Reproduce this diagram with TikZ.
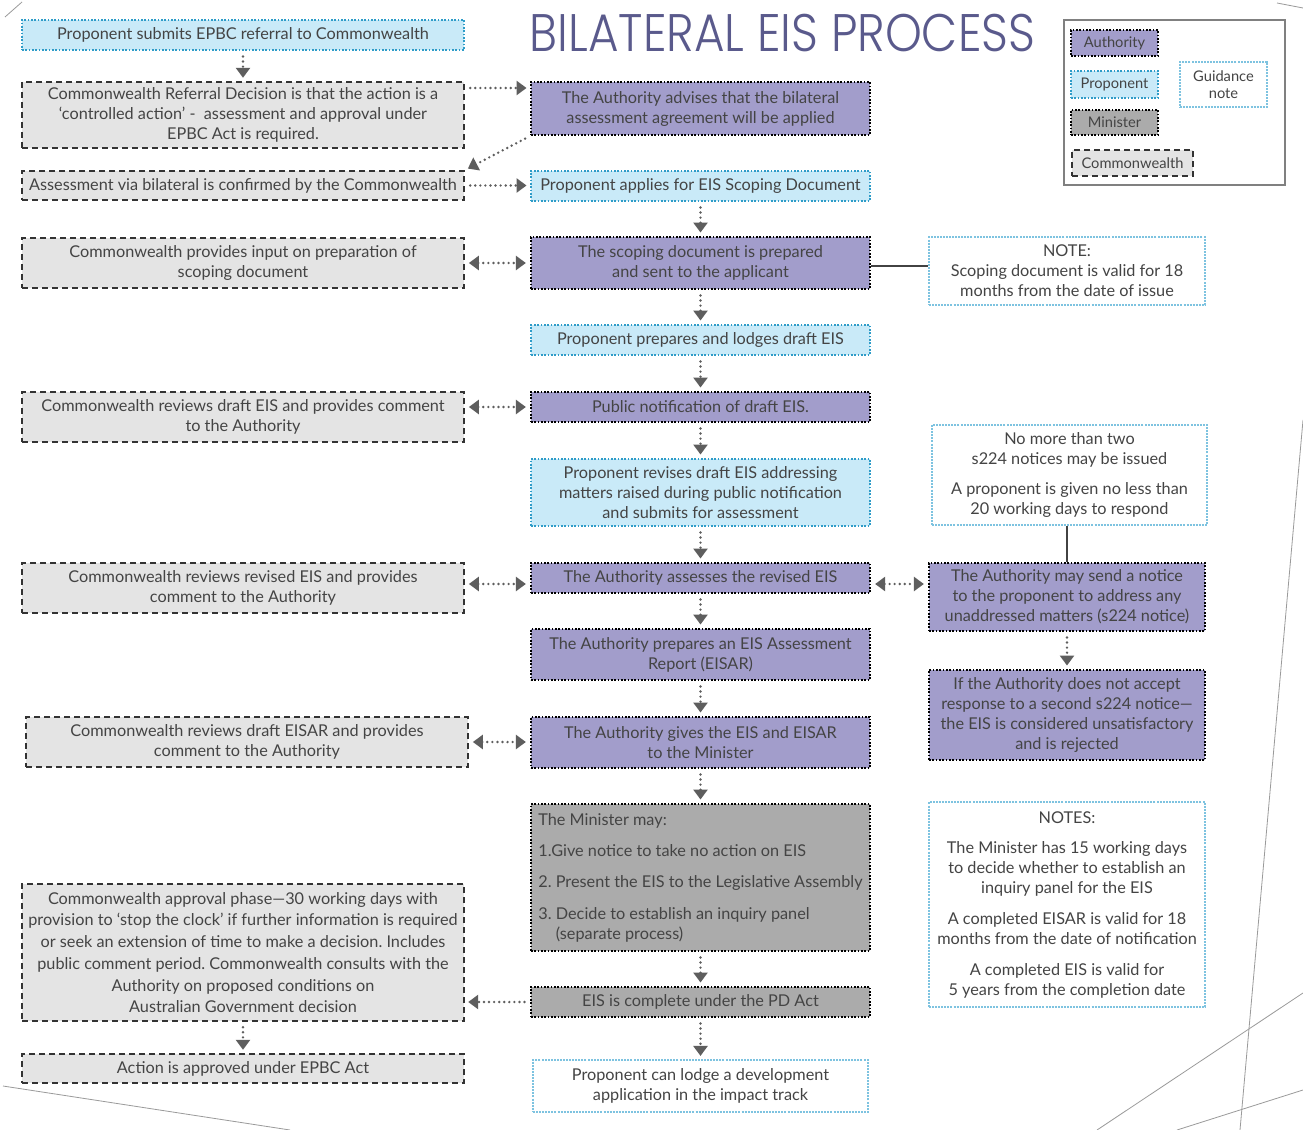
\documentclass[tikz,border=0pt]{standalone}
\usepackage{fontspec}
\setmainfont{Lato}
\newfontfamily\titlefont{Poppins}[UprightFont=* Light]
\usetikzlibrary{arrows.meta,calc}
\definecolor{txt}{HTML}{444444}
\definecolor{authfill}{HTML}{A29DCB}
\definecolor{propfill}{HTML}{C9EAF8}
\definecolor{propline}{HTML}{2E9CC8}
\definecolor{minfill}{HTML}{ABABAB}
\definecolor{comfill}{HTML}{E4E4E4}
\definecolor{comline}{HTML}{333333}
\definecolor{noteline}{HTML}{7EC3E0}
\definecolor{arrowc}{HTML}{5E5E5E}
\definecolor{titlec}{HTML}{5A5A8C}
\definecolor{deco}{HTML}{9A9A9A}
\tikzset{
  wh/.style 2 args={minimum width=#1*0.75pt, minimum height=#2*0.75pt},
  base/.style={rectangle, inner sep=0pt, align=center, text=txt, font=\fontsize{12.2}{15}\selectfont},
  auth/.style={base, fill=authfill, draw=black, line width=1.7pt, dash pattern=on 1.2pt off 1.3pt},
  prop/.style={base, fill=propfill, draw=propline, line width=1.7pt, dash pattern=on 1.2pt off 1.3pt},
  mini/.style={base, fill=minfill, draw=black, line width=1.7pt, dash pattern=on 1.2pt off 1.3pt},
  comm/.style={base, fill=comfill, draw=comline, line width=1.3pt, dash pattern=on 4.5pt off 3pt},
  guide/.style={base, fill=white, draw=noteline, line width=1.1pt, dash pattern=on 1.5pt off 0.8pt},
  legbox/.style={font=\fontsize{11}{13}\selectfont},
  flow/.style={draw=arrowc, line width=2pt, dash pattern=on 0pt off 3.8pt, line cap=round,
    -{Triangle[width=10.5pt,length=7.5pt]}, shorten <=4pt, shorten >=2.5pt},
  biflow/.style={flow, {Triangle[width=10.5pt,length=7.5pt]}-{Triangle[width=10.5pt,length=7.5pt]}, shorten <=3pt, shorten >=3pt},
  tie/.style={draw=arrowc!70!black, line width=1.5pt},
}
\begin{document}
\frenchspacing
\begin{tikzpicture}[x=0.75pt,y=-0.75pt]
\useasboundingbox (0,0) rectangle (1303,1130);
\fill[white] (0,0) rectangle (1303,1130);
% decorative lines
\draw[deco, line width=0.6pt] (5,17) -- (22,2);
\draw[deco, line width=0.6pt] (1277,3) -- (1303,8);
\draw[deco, line width=0.6pt] (1303,420) -- (1240,1130);
\draw[deco, line width=0.6pt] (1303,993) -- (1097,1130);
\draw[deco, line width=0.6pt] (1303,1090) -- (1177,1130);
\draw[deco, line width=0.6pt] (3,1086) -- (290,1130);

% title
\node[text=titlec, inner sep=0pt] (title) at (782.5,33.5) {\resizebox{379pt}{28pt}{\titlefont BILATERAL EIS PROCESS}};

% legend
\node[draw=gray, line width=0.8pt, wh={221}{165}] (legend) at (1174.5,102.5) {};
\node[auth, legbox, wh={87}{26}] (lgA) at (1114.5,43) {Authority};
\node[prop, legbox, wh={87}{27}] (lgP) at (1114.5,84.5) {Proponent};
\node[mini, legbox, wh={87}{25}] (lgM) at (1114.5,122.5) {Minister};
\node[comm, legbox, wh={121}{26}] (lgC) at (1132.5,163) {Commonwealth};
\node[guide, legbox, wh={87}{45}] (lgG) at (1223.5,84.5) {Guidance\\note};

% left column
\node[prop, wh={442}{30}] (L0) at (243,35) {Proponent submits EPBC referral to Commonwealth};
\node[comm, wh={442}{66}] (L1) at (243,115) {Commonwealth Referral Decision is that the action is a\\‘controlled action’ -\ \ assessment and approval under\\EPBC Act is required.};
\node[comm, wh={442}{29}] (L2) at (243,185.5) {Assessment via bilateral is confirmed by the Commonwealth};
\node[comm, wh={442}{50}] (L3) at (243,263) {Commonwealth provides input on preparation of\\scoping document};
\node[comm, wh={442}{50}] (L4) at (243,417) {Commonwealth reviews draft EIS and provides comment\\to the Authority};
\node[comm, wh={442}{50}] (L5) at (243,588) {Commonwealth reviews revised EIS and provides\\comment to the Authority};
\node[comm, wh={442}{50}] (L6) at (247,742) {Commonwealth reviews draft EISAR and provides\\comment to the Authority};
\node[comm, wh={442}{137}, font=\fontsize{12.2}{16.3}\selectfont] (L7) at (243,952.5) {Commonwealth approval phase—30 working days with\\provision to ‘stop the clock’ if further information is required\\or seek an extension of time to make a decision. Includes\\public comment period. Commonwealth consults with the\\Authority on proposed conditions on\\Australian Government decision};
\node[comm, wh={442}{29}] (L8) at (243,1068.5) {Action is approved under EPBC Act};

% centre column
\node[auth, wh={339}{53}] (C0) at (700.5,108.5) {The Authority advises that the bilateral\\assessment agreement will be applied};
\node[prop, wh={339}{30}] (C1) at (700.5,186) {Proponent applies for EIS Scoping Document};
\node[auth, wh={339}{52}] (C2) at (700.5,263) {The scoping document is prepared\\and sent to the applicant};
\node[prop, wh={339}{30}] (C3) at (700.5,340) {Proponent prepares and lodges draft EIS};
\node[auth, wh={339}{30}] (C4) at (700.5,407) {Public notification of draft EIS.};
\node[prop, wh={339}{67}] (C5) at (700.5,492.5) {Proponent revises draft EIS addressing\\matters raised during public notification\\and submits for assessment};
\node[auth, wh={339}{30}] (C6) at (700.5,578) {The Authority assesses the revised EIS};
\node[auth, wh={339}{51}] (C7) at (700.5,654.5) {The Authority prepares an EIS Assessment\\Report (EISAR)};
\node[auth, wh={339}{51}] (C8) at (700.5,742.5) {The Authority gives the EIS and EISAR\\to the Minister};
\node[mini, wh={339}{147}, align=left] (C9) at (700.5,877.5) {The Minister may:\\[8.5pt]1.Give notice to take no action on EIS\\[8.5pt]2. Present the EIS to the Legislative Assembly\\[8.5pt]3. Decide to establish an inquiry panel\\\hphantom{3. }(separate process)};
\node[mini, wh={339}{30}] (C10) at (700.5,1002) {EIS is complete under the PD Act};
\node[guide, wh={335}{52}] (C11) at (700.5,1086) {Proponent can lodge a development\\application in the impact track};

% right column
\node[guide, wh={276}{68}] (R0) at (1067,271) {NOTE:\\Scoping document is valid for 18\\months from the date of issue};
\node[guide, wh={275}{100}] (R1) at (1069.5,475) {No more than two\\s224 notices may be issued\\[8pt]A proponent is given no less than\\20 working days to respond};
\node[auth, wh={276}{68}] (R2) at (1067,597) {The Authority may send a notice\\to the proponent to address any\\unaddressed matters (s224 notice)};
\node[auth, wh={276}{90}] (R3) at (1067,715) {If the Authority does not accept\\response to a second s224 notice—\\the EIS is considered unsatisfactory\\and is rejected};
\node[guide, wh={276}{205}] (R4) at (1067,904.5) {NOTES:\\[8pt]The Minister has 15 working days\\to decide whether to establish an\\inquiry panel for the EIS\\[8pt]A completed EISAR is valid for 18\\months from the date of notification\\[8pt]A completed EIS is valid for\\5 years from the completion date};

% helper coordinates
\coordinate (yA) at (0,88);
\coordinate (yB) at (0,584);
\coordinate (yC) at (0,266);

% connectors
\draw[flow] (L0) -- (L1);
\draw[flow] (L1.east |- yA) -- (C0.west |- yA);
\draw[flow] (C0.south west) -- (L2.north east);
\draw[flow] (L2.east) -- (C1.west |- L2.east);
\draw[flow] (C1) -- (C2);
\draw[flow] (C2) -- (C3);
\draw[flow] (C3) -- (C4);
\draw[flow] (C4) -- (C5);
\draw[flow] (C5) -- (C6);
\draw[flow] (C6) -- (C7);
\draw[flow] (C7) -- (C8);
\draw[flow] (C8) -- (C9);
\draw[flow] (C9) -- (C10);
\draw[flow] (C10) -- (C11);
\draw[biflow] (L3.east) -- (C2.west);
\draw[biflow] (L4.east |- C4.west) -- (C4.west);
\draw[biflow] (L5.east |- yB) -- (C6.west |- yB);
\draw[biflow] (L6.east) -- (C8.west |- L6.east);
\draw[biflow] (C6.east |- yB) -- (R2.west |- yB);
\draw[tie] (C2.east |- yC) -- (R0.west |- yC);
\draw[tie] (R2.north) -- (R2.north |- R1.south);
\draw[flow] (R2) -- (R3);
\draw[flow] (C10.west) -- (L7.east |- C10.west);
\draw[flow] (L7) -- (L8);
\end{tikzpicture}
\end{document}
